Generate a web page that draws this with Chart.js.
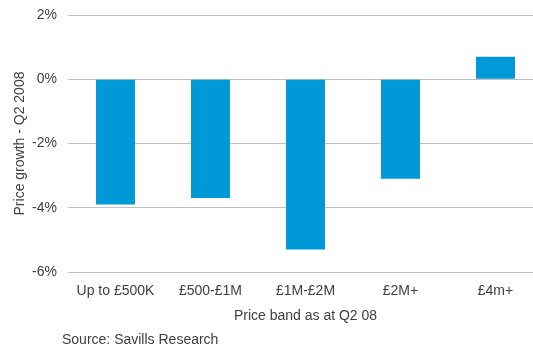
<!DOCTYPE html>
<html>
<head>
<meta charset="utf-8">
<script src="https://cdn.jsdelivr.net/npm/chart.js@4.4.0/dist/chart.umd.min.js"></script>
<style>
  html, body { margin: 0; padding: 0; background: #fff; overflow: hidden; }
  #wrap { position: relative; width: 545px; height: 347px; }
  #source { position: absolute; left: 62px; top: 331px; font-family: "Liberation Sans", Arial, sans-serif; font-size: 14px; color: #404040; }
</style>
</head>
<body>
<div id="wrap">
  <canvas id="chart" width="545" height="347"></canvas>
  <div id="source">Source: Savills Research</div>
</div>
<script>
var categories = ["Up to £500K", "£500-£1M", "£1M-£2M", "£2M+", "£4m+"];
var growth = [-3.9, -3.7, -5.3, -3.1, 0.7];
var yTicks = [-6, -4, -2, 0, 2];

var textColor = "#404040";
var font = { family: "'Liberation Sans', Arial, sans-serif", size: 14 };

var chart = new Chart(document.getElementById("chart"), {
  type: "bar",
  data: {
    labels: categories,
    datasets: [{
      label: "Price growth",
      data: growth,
      backgroundColor: "#0099D7",
      barPercentage: 0.41,
      categoryPercentage: 1
    }]
  },
  options: {
    responsive: false,
    animation: false,
    layout: { padding: { top: 15, bottom: 22, left: 12, right: 2 } },
    plugins: { legend: { display: false }, tooltip: { enabled: false } },
    scales: {
      x: {
        grid: { display: false, drawTicks: false },
        border: { display: false },
        ticks: { color: textColor, font: font, padding: 11, maxRotation: 0 },
        title: { display: true, text: "Price band as at Q2 08", color: textColor, font: font, padding: 0 },
        afterFit: function(axis) { axis.height = 53; axis.paddingLeft = 0; axis.paddingRight = 0; }
      },
      y: {
        min: -6,
        max: 2,
        afterBuildTicks: function(axis) { axis.ticks = yTicks.map(function(v){ return { value: v }; }); },
        grid: { color: "#BFBFBF", lineWidth: 1, drawTicks: false },
        border: { display: false },
        ticks: { color: textColor, font: font, padding: 11, callback: function(v){ return v + "%"; } },
        title: { display: true, text: "Price growth - Q2 2008", color: textColor, font: font, padding: 0 },
        afterFit: function(axis) { axis.width = 56; axis.paddingTop = 0; axis.paddingBottom = 0; }
      }
    }
  }
});
</script>
</body>
</html>
